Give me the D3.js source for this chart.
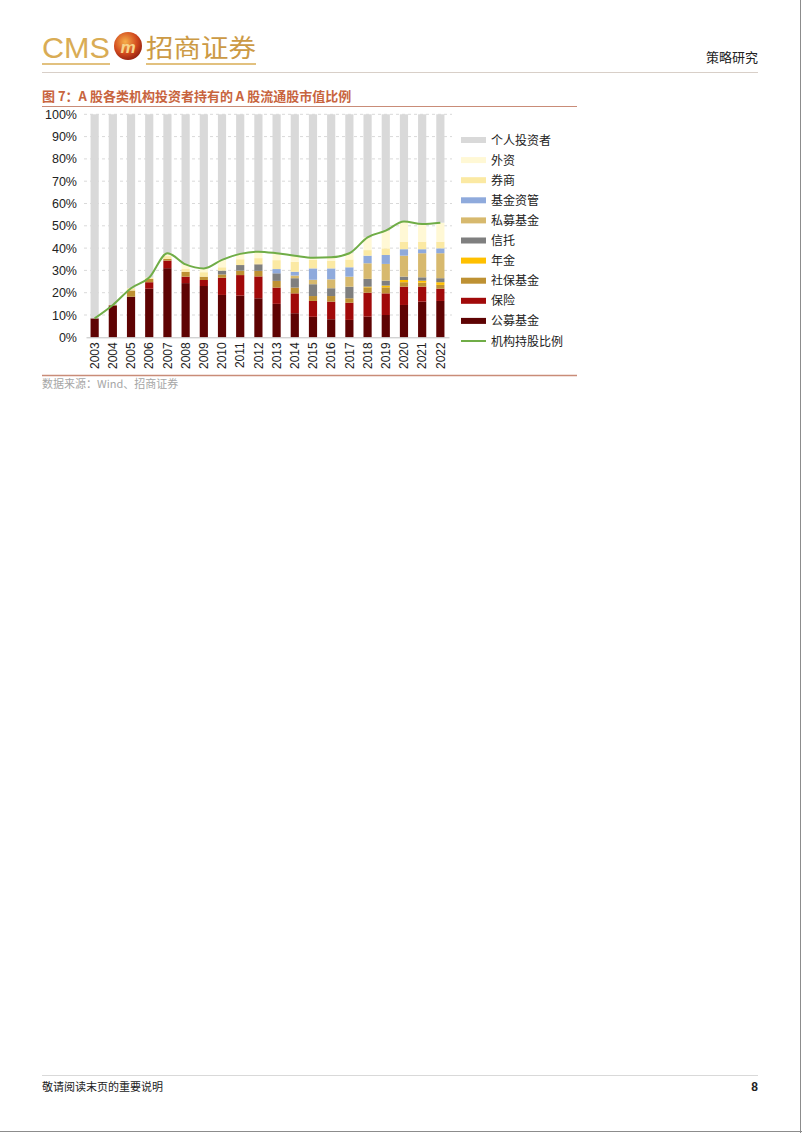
<!DOCTYPE html>
<html><head><meta charset="utf-8">
<script src="https://cdn.jsdelivr.net/npm/d3@7"></script>
<style>
html,body{margin:0;padding:0;background:#fff;}
svg{display:block;}
</style></head>
<body>
<svg id="c" width="802" height="1133"></svg>
<script>
const years = ["2003","2004","2005","2006","2007","2008","2009","2010","2011","2012","2013","2014","2015","2016","2017","2018","2019","2020","2021","2022"];
// institution categories (percent of A-share free-float market value)
const publicFund   = [8.5,14.3,18.2,21.8,31.0,24.3,23.0,19.0,18.7,17.5,15.0,10.8,9.2,8.1,7.8,9.3,10.0,14.5,16.0,16.3];
const insurance    = [0,0,0,2.9,3.4,2.9,2.7,7.7,9.2,9.8,7.3,8.9,7.1,7.9,7.7,10.7,9.7,8.2,6.7,5.5];
const socialSec    = [0,0.2,2.8,1.5,0.8,2.2,1.5,1.5,2.0,2.5,3.0,2.6,2.2,2.5,2.0,2.4,2.7,2.0,1.8,1.7];
const pension      = [0,0,0,0,0,0,0,0,0,0,0,0,0,0,0,0.3,0.8,1.0,0.9,1.2];
const trust        = [0,0,0,0,0,0,0,1.7,2.5,2.9,3.4,4.2,5.3,3.5,5.2,3.5,2.2,1.5,1.5,1.8];
const privateFund  = [0,0,0,0,0,0,0,0,0,0.3,0,1.2,2.0,4.0,4.5,7.0,7.5,9.4,10.8,11.2];
const fundMgmt     = [0,0,0,0,0,0,0,0,0,0,1.9,1.7,5.1,4.9,4.2,3.4,4.0,2.9,1.8,2.2];
const broker       = [0,0,1.0,0.6,1.2,1.2,2.0,1.5,2.6,2.5,4.0,4.5,3.8,3.5,3.5,2.5,3.0,3.4,3.4,3.0];
const foreign      = [0,0,0,0,1.3,2.1,1.7,3.3,2.4,2.9,3.1,2.7,1.0,1.5,2.8,5.7,7.9,9.0,7.9,8.5];
const instShare    = [8.5,14.5,22.0,26.8,37.7,32.7,30.9,34.7,37.4,38.4,37.7,36.6,35.7,35.9,37.7,44.8,47.8,51.9,50.8,51.4];
const individual   = instShare.map(v => 100 - v);
const yTicks = [0,10,20,30,40,50,60,70,80,90,100];

const seriesNames = ["公募基金","保险","社保基金","年金","信托","私募基金","基金资管","券商","外资","个人投资者"];
const seriesData  = [publicFund,insurance,socialSec,pension,trust,privateFund,fundMgmt,broker,foreign,individual];
const colors = ["#5E0303","#A10A0A","#BE9133","#FFC000","#7F7F7F","#D7B96E","#8FAADC","#FBE9A3","#FFF8D5","#D9D9D9"];
const lineName = "机构持股比例";
const lineColor = "#70AD47";

const svg = d3.select("#c");
const CJK = "'Noto Sans CJK SC','Noto Sans',sans-serif";
const LAT = "'Liberation Sans',Arial,sans-serif";

// ---- page header ----
const defs = svg.append("defs");
const g1 = defs.append("radialGradient").attr("id","lg").attr("cx","40%").attr("cy","35%").attr("r","70%");
g1.append("stop").attr("offset","0%").attr("stop-color","#F6B04A");
g1.append("stop").attr("offset","60%").attr("stop-color","#D24A1E");
g1.append("stop").attr("offset","100%").attr("stop-color","#8E1E10");

svg.append("text").attr("x",42).attr("y",58).attr("font-family","'Liberation Sans Narrow','Liberation Sans',sans-serif")
  .attr("font-size",29).attr("fill","#D9AC55").attr("textLength",68).attr("lengthAdjust","spacingAndGlyphs").text("CMS");
svg.append("line").attr("x1",42).attr("x2",110).attr("y1",64).attr("y2",64).attr("stroke","#D9AC55").attr("stroke-width",1.5);
svg.append("circle").attr("cx",128).attr("cy",46).attr("r",14).attr("fill","url(#lg)");
svg.append("text").attr("x",128).attr("y",53).attr("text-anchor","middle").attr("font-family",LAT).attr("font-weight","bold")
  .attr("font-style","italic").attr("font-size",17).attr("fill","#F7D48A").text("m");
svg.append("text").attr("x",146).attr("y",57).attr("font-family",CJK).attr("font-size",25).attr("fill","#CC9A45")
  .attr("textLength",110).attr("lengthAdjust","spacingAndGlyphs").text("招商证券");
svg.append("line").attr("x1",146).attr("x2",256).attr("y1",64).attr("y2",64).attr("stroke","#D9AC55").attr("stroke-width",1.5);
svg.append("text").attr("x",758).attr("y",62).attr("text-anchor","end").attr("font-family",CJK).attr("font-size",13).attr("fill","#222").text("策略研究");
svg.append("line").attr("x1",42).attr("x2",758).attr("y1",72.5).attr("y2",72.5).attr("stroke","#D8CFC8").attr("stroke-width",1);

// ---- figure title ----
svg.append("text").attr("x",42).attr("y",101).attr("font-family",CJK).attr("font-size",13).attr("font-weight","bold")
  .attr("fill","#C8643E").text("图 7：A 股各类机构投资者持有的 A 股流通股市值比例");
svg.append("line").attr("x1",42).attr("x2",577).attr("y1",106.5).attr("y2",106.5).attr("stroke","#C98C78").attr("stroke-width",1.2);

// ---- chart ----
const x = d3.scaleBand().domain(years).range([86,449]).paddingInner(0.55).paddingOuter(0.25);
const y = d3.scaleLinear().domain([0,100]).range([337.3,114.3]);

const grid = svg.append("g");
grid.selectAll("line").data(yTicks.slice(1)).join("line")
  .attr("x1",84).attr("x2",452).attr("y1",d=>y(d)).attr("y2",d=>y(d))
  .attr("stroke","#D9D9D9").attr("stroke-width",1).attr("stroke-dasharray","3,3");

const yAxis = svg.append("g").attr("transform","translate(80,0)")
  .call(d3.axisLeft(y).tickValues(yTicks).tickFormat(d=>d+"%").tickSize(0).tickPadding(3));
yAxis.select(".domain").remove();
yAxis.selectAll("text").attr("font-family",LAT).attr("font-size",12.5).attr("fill","#222");

const rows = years.map((yr,i)=>{ const o={year:yr}; seriesNames.forEach((n,k)=>o[n]=seriesData[k][i]); return o;});
const stack = d3.stack().keys(seriesNames)(rows);
svg.append("g").selectAll("g").data(stack).join("g").attr("fill",(d,i)=>colors[i])
  .selectAll("rect").data(d=>d).join("rect")
  .attr("x",d=>x(d.data.year)).attr("width",x.bandwidth())
  .attr("y",d=>y(d[1])).attr("height",d=>Math.max(0,y(d[0])-y(d[1])));

const line = d3.line().x((d,i)=>x(years[i])+x.bandwidth()/2).y(d=>y(d)).curve(d3.curveMonotoneX);
svg.append("path").datum(instShare).attr("d",line).attr("fill","none").attr("stroke",lineColor).attr("stroke-width",2);

const xAxis = svg.append("g").attr("transform","translate(0,337.3)").call(d3.axisBottom(x).tickSize(0));
xAxis.select(".domain").attr("stroke","#BFBFBF");
xAxis.selectAll("text").attr("font-family",LAT).attr("font-size",12).attr("fill","#222")
  .attr("transform","rotate(-90)").attr("text-anchor","end").attr("dx","-5").attr("dy","0.35em")
  .attr("x",0).attr("y",0);
xAxis.selectAll(".tick text").each(function(){ d3.select(this).attr("transform","rotate(-90)"); });

// legend
const legItems = seriesNames.slice().reverse().map((n,i)=>({name:n,color:colors[seriesNames.length-1-i],type:"rect"}));
legItems.push({name:lineName,color:lineColor,type:"line"});
const leg = svg.append("g").selectAll("g").data(legItems).join("g")
  .attr("transform",(d,i)=>`translate(461,${140+i*20.1})`);
leg.each(function(d){
  const g=d3.select(this);
  if(d.type==="rect") g.append("rect").attr("x",0).attr("y",-3).attr("width",25).attr("height",6).attr("fill",d.color);
  else g.append("line").attr("x1",0).attr("x2",25).attr("y1",0).attr("y2",0).attr("stroke",d.color).attr("stroke-width",2);
  g.append("text").attr("x",30).attr("y",4.5).attr("font-family",CJK).attr("font-size",12).attr("fill","#222").text(d.name);
});

svg.append("line").attr("x1",42).attr("x2",577).attr("y1",375.5).attr("y2",375.5).attr("stroke","#C98C78").attr("stroke-width",1.5);
svg.append("text").attr("x",42).attr("y",388).attr("font-family",CJK).attr("font-size",11).attr("fill","#A6A6A6").text("数据来源：Wind、招商证券");

// ---- footer ----
svg.append("line").attr("x1",42).attr("x2",758).attr("y1",1075.5).attr("y2",1075.5).attr("stroke","#D9D9D9").attr("stroke-width",1);
svg.append("text").attr("x",42).attr("y",1091).attr("font-family",CJK).attr("font-size",11).attr("fill","#222").text("敬请阅读末页的重要说明");
svg.append("text").attr("x",758).attr("y",1091).attr("text-anchor","end").attr("font-family",LAT).attr("font-weight","bold").attr("font-size",12).attr("fill","#222").text("8");

// page border
svg.append("line").attr("x1",800.5).attr("x2",800.5).attr("y1",0).attr("y2",1133).attr("stroke","#8C8C8C").attr("stroke-width",1);
svg.append("line").attr("x1",0).attr("x2",802).attr("y1",1131.5).attr("y2",1131.5).attr("stroke","#8C8C8C").attr("stroke-width",1);
</script>
</body></html>
